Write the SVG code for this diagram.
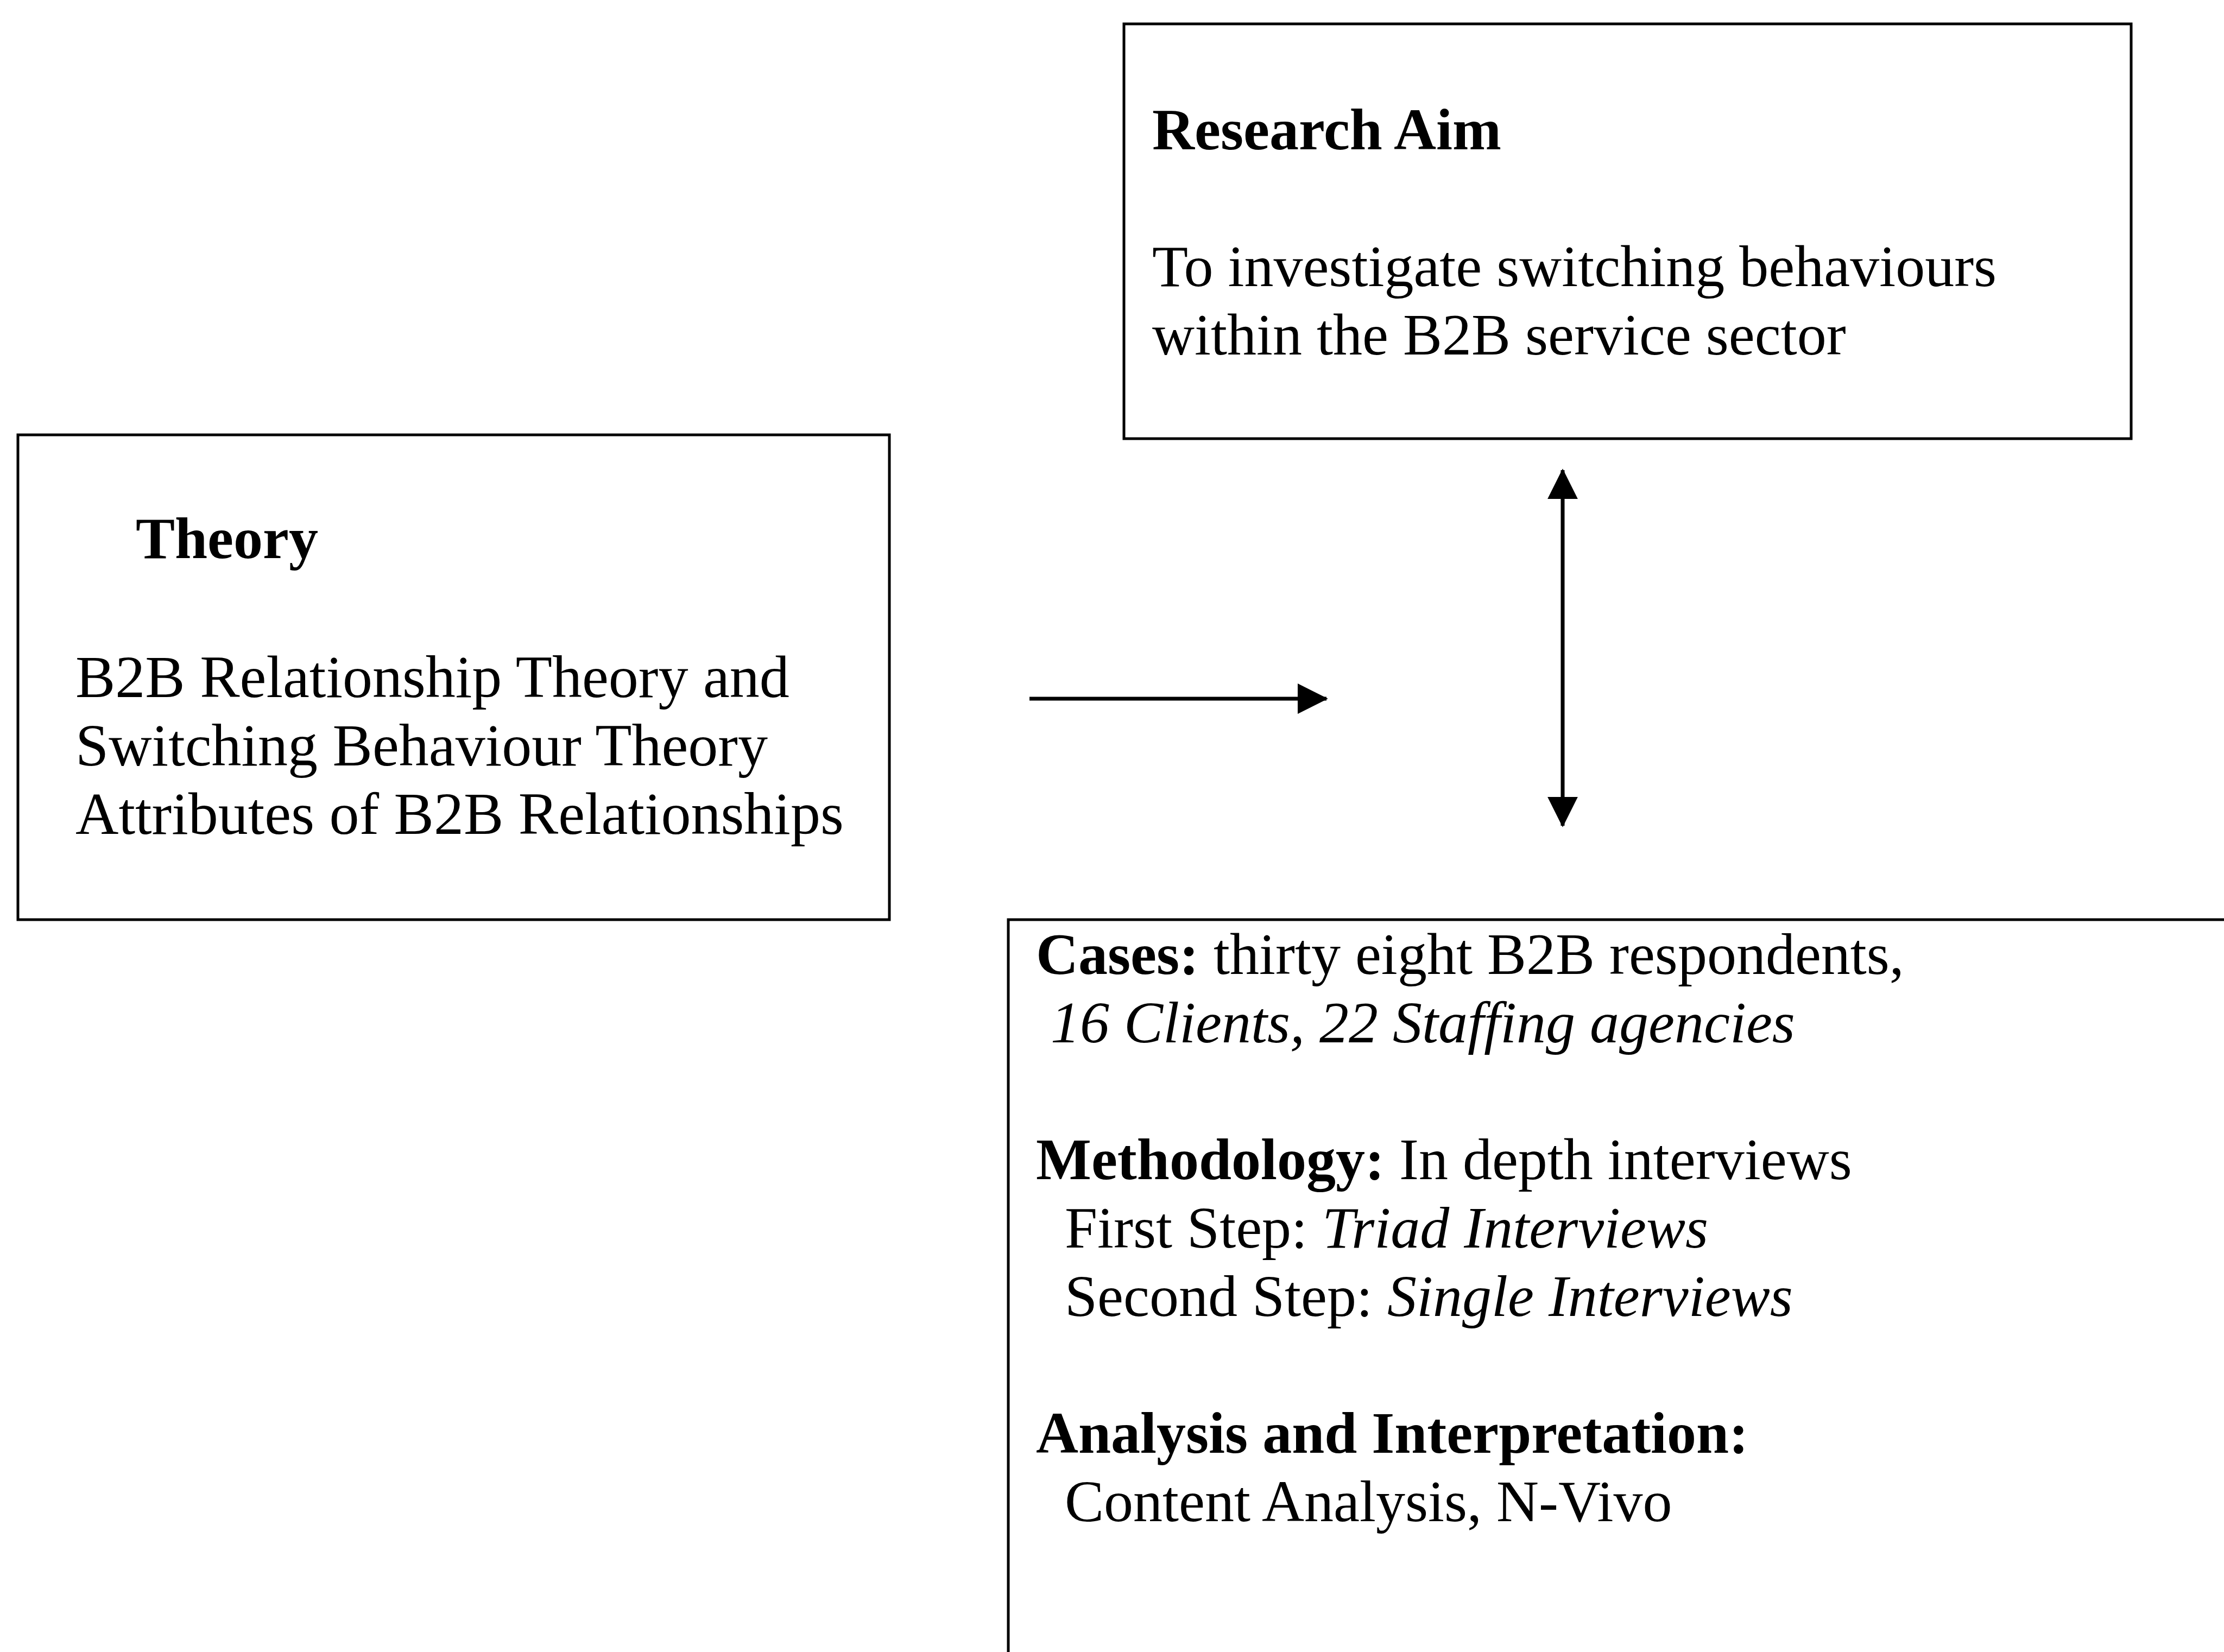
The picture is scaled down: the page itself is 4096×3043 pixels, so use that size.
<svg xmlns="http://www.w3.org/2000/svg" width="4096" height="3043" viewBox="0 0 4096 3043">
<style>
.box{fill:none;stroke:#000;stroke-width:5}
.t{font-family:"Liberation Serif","Times New Roman",serif;font-size:108px;fill:#000}
.tl{font-size:110px}
.b{font-weight:bold}
.i{font-style:italic}
.conn{stroke:#000;stroke-width:7;fill:none}
</style>
<defs>
<marker id="ah" viewBox="0 0 10 10" refX="9.5" refY="5" markerWidth="8" markerHeight="8" markerUnits="strokeWidth" orient="auto-start-reverse">
<path d="M0,0 L10,5 L0,10 Z" fill="#000"/>
</marker>
</defs>
<rect width="4096" height="3043" fill="#fff"/>
<g id="research-aim">
<rect class="box" x="2070" y="44" width="1855" height="764"/>
<text class="t b" x="2122" y="275">Research Aim</text>
<text class="t" x="2122" y="527">To investigate switching behaviours</text>
<text class="t" x="2122" y="653">within the B2B service sector</text>
</g>
<g id="theory">
<rect class="box" x="33" y="801" width="1605" height="893"/>
<text class="t b" x="250" y="1028">Theory</text>
<text class="t tl" x="139" y="1284">B2B Relationship Theory and</text>
<text class="t tl" x="139" y="1410">Switching Behaviour Theory</text>
<text class="t tl" x="139" y="1536">Attributes of B2B Relationships</text>
</g>
<g id="methods">
<path class="box" d="M4100,1694 H1857 V3050"/>
<text class="t" x="1908" y="1794"><tspan class="b">Cases:</tspan> thirty eight B2B respondents,</text>
<text class="t i" x="1935" y="1920">16 Clients, 22 Staffing agencies</text>
<text class="t" x="1908" y="2172"><tspan class="b">Methodology:</tspan> In depth interviews</text>
<text class="t" x="1961" y="2298">First Step: <tspan class="i">Triad Interviews</tspan></text>
<text class="t" x="1961" y="2424">Second Step: <tspan class="i">Single Interviews</tspan></text>
<text class="t b" x="1908" y="2676">Analysis and Interpretation:</text>
<text class="t" x="1961" y="2802">Content Analysis, N-Vivo</text>
</g>
<g id="connectors">
<line class="conn" x1="1896" y1="1287" x2="2443" y2="1287" marker-end="url(#ah)"/>
<line class="conn" x1="2878" y1="866" x2="2878" y2="1521" marker-start="url(#ah)" marker-end="url(#ah)"/>
</g>
</svg>
